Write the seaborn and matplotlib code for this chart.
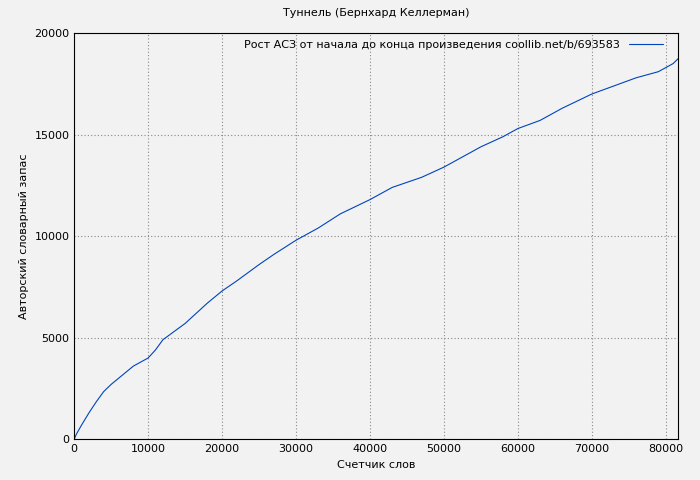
import matplotlib
matplotlib.use("Agg")
import matplotlib.pyplot as plt
import seaborn as sns
import pandas as pd

words = [0, 300, 1000, 2000, 3000, 4000, 5000, 6000, 8000, 10000, 11000, 12000, 15000, 18000, 20000, 22000, 25000, 27000,
         30000, 33000, 36000, 40000, 43000, 47000, 50000, 52000, 55000, 58000, 60000, 63000,
         66000, 70000, 73000, 76000, 79000, 81000, 81700]
vocab = [0, 250, 700, 1300, 1850, 2350, 2700, 3000, 3600, 4000, 4400, 4900, 5700, 6700, 7300, 7800, 8600, 9100,
         9800, 10400, 11100, 11800, 12400, 12900, 13400, 13800, 14400, 14900, 15300, 15700,
         16300, 17000, 17400, 17800, 18100, 18500, 18750]

sns.set_style("white")
plt.rcParams['font.family'] = ['DejaVu Sans']
plt.rcParams['text.color'] = 'black'
plt.rcParams['axes.labelcolor'] = 'black'
plt.rcParams['xtick.color'] = 'black'
plt.rcParams['ytick.color'] = 'black'
df = pd.DataFrame({"x": words, "y": vocab})
fig, ax = plt.subplots(figsize=(7, 4.8), dpi=100)
fig.patch.set_facecolor("#f2f2f2")
ax.set_facecolor("#f2f2f2")
fig.subplots_adjust(left=0.106, right=0.969, top=0.931, bottom=0.085)
sns.lineplot(data=df, x="x", y="y", ax=ax, color="#0044bb", linewidth=0.8,
             label="Рост АСЗ от начала до конца произведения coollib.net/b/693583")
ax.set_xlim(0, 81700)
ax.set_ylim(0, 20000)
ax.set_xticks(range(0, 80001, 10000))
ax.set_yticks(range(0, 20001, 5000))
ax.grid(True, color="#888888", linestyle=(0, (1, 2)), linewidth=0.8)
for s in ax.spines.values():
    s.set_color("black"); s.set_linewidth(0.8)
ax.tick_params(labelsize=8, direction="in", length=4)
ax.set_xlabel("Счетчик слов", fontsize=8)
ax.set_ylabel("Авторский словарный запас", fontsize=8)
ax.set_title("Туннель (Бернхард Келлерман)", fontsize=8, pad=12)
leg = ax.legend(loc="upper right", fontsize=8, frameon=False, markerfirst=False, handlelength=3,
                borderaxespad=0.2, bbox_to_anchor=(0.985, 1.0))
fig.savefig("out.png", dpi=100, facecolor=fig.get_facecolor())
